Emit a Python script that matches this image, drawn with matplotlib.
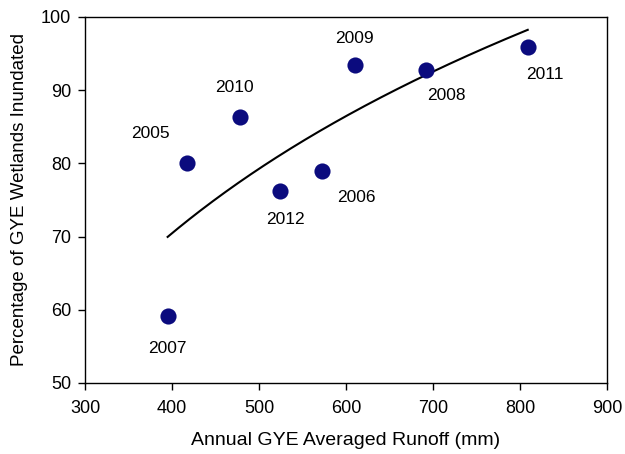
import numpy as np
import matplotlib
matplotlib.use('Agg')
import matplotlib.pyplot as plt

plt.rcParams['font.family'] = ['Liberation Sans', 'DejaVu Sans']

# Data
years = ['2005', '2006', '2007', '2008', '2009', '2010', '2011', '2012']
runoff = [417, 573, 395, 692, 610, 478, 809, 524]
inundated = [80.1, 78.9, 59.2, 92.7, 93.4, 86.3, 95.9, 76.2]

# label offsets in pixels (dx, dy)
label_offsets = {
    '2005': (-36, 29), '2006': (34, -26), '2007': (0, -33), '2008': (20, -25),
    '2009': (0, 27), '2010': (-5, 30), '2011': (17, -28), '2012': (6, -28),
}

fig = plt.figure(figsize=(6.25, 4.54), dpi=100)
ax = fig.add_axes([0.136, 0.1564, 0.835, 0.8062])

# logarithmic fit y = a + b ln(x)
x = np.array(runoff, dtype=float)
y = np.array(inundated, dtype=float)
b, a = np.polyfit(np.log(x), y, 1)
xs = np.linspace(x.min(), x.max(), 200)
ax.plot(xs, a + b * np.log(xs), color='black', lw=1.5, zorder=2)

ax.scatter(runoff, inundated, s=135, color='#0b0b7e', zorder=3, linewidths=0)

for yr, xv, yv in zip(years, runoff, inundated):
    dx, dy = label_offsets[yr]
    ax.annotate(yr, (xv, yv), xytext=(dx, dy), textcoords='offset pixels',
                ha='center', va='center', fontsize=12.5)

ax.set_xlim(300, 900)
ax.set_ylim(50, 100)
ax.set_xticks(range(300, 901, 100))
ax.set_yticks(range(50, 101, 10))
ax.tick_params(direction='out', length=5, width=1, labelsize=13)
ax.tick_params(axis='x', pad=7)
ax.tick_params(axis='y', pad=5)
for sp in ax.spines.values():
    sp.set_linewidth(1)

ax.set_xlabel('Annual GYE Averaged Runoff (mm)', fontsize=14, labelpad=11)
ax.set_ylabel('Percentage of GYE Wetlands Inundated', fontsize=13.5, labelpad=9)

fig.savefig('out.png', dpi=100)
